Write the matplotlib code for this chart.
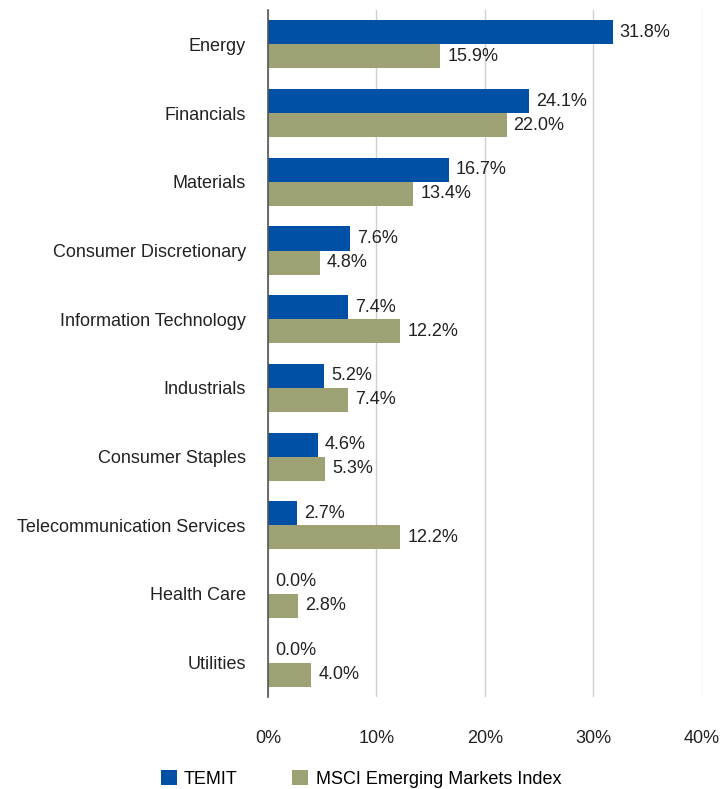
import matplotlib.pyplot as plt
import numpy as np
from matplotlib import font_manager

sectors = ['Energy', 'Financials', 'Materials', 'Consumer Discretionary',
           'Information Technology', 'Industrials', 'Consumer Staples',
           'Telecommunication Services', 'Health Care', 'Utilities']
temit = [31.8, 24.1, 16.7, 7.6, 7.4, 5.2, 4.6, 2.7, 0.0, 0.0]
msci = [15.9, 22.0, 13.4, 4.8, 12.2, 7.4, 5.3, 12.2, 2.8, 4.0]
xticks = [0, 10, 20, 30, 40]

names = {f.name for f in font_manager.fontManager.ttflist}
fam = 'Liberation Sans Narrow' if 'Liberation Sans Narrow' in names else 'Liberation Sans'
plt.rcParams['font.family'] = [fam, 'DejaVu Sans']
plt.rcParams['font.size'] = 13

blue = '#0050a5'
green = '#9da173'

fig = plt.figure(figsize=(7.22, 7.89), dpi=100)
ax = fig.add_axes([0.371, 0.1166, 0.601, 0.8706])

y = np.arange(len(sectors))
h = 0.35
b1 = ax.barh(y - h / 2, temit, height=h, color=blue, label='TEMIT')
b2 = ax.barh(y + h / 2, msci, height=h, color=green, label='MSCI Emerging Markets Index')
ax.bar_label(b1, labels=[f'{v:.1f}%' for v in temit], padding=5, color='#222222')
ax.bar_label(b2, labels=[f'{v:.1f}%' for v in msci], padding=5, color='#222222')

ax.set_ylim(len(sectors) - 0.5, -0.5)
ax.set_xlim(0, 40)
ax.set_yticks(y)
ax.set_yticklabels(sectors)
ax.set_xticks(xticks)
ax.set_xticklabels([f'{v}%' for v in xticks])
ax.tick_params(axis='both', length=0, colors='#222222')
ax.tick_params(axis='x', pad=24)
ax.tick_params(axis='y', pad=16)
ax.xaxis.grid(True, color='#d0d0d0', linewidth=1)
ax.set_axisbelow(True)
for s in ['top', 'right', 'bottom']:
    ax.spines[s].set_visible(False)
ax.spines['left'].set_color('#555555')
ax.spines['left'].set_linewidth(1.2)

fig.legend(loc='lower left', bbox_to_anchor=(0.2, -0.019), ncol=2, frameon=False,
           handlelength=0.9, handleheight=0.9, columnspacing=3.0, handletextpad=0.4)

fig.savefig('out.png', dpi=100)
